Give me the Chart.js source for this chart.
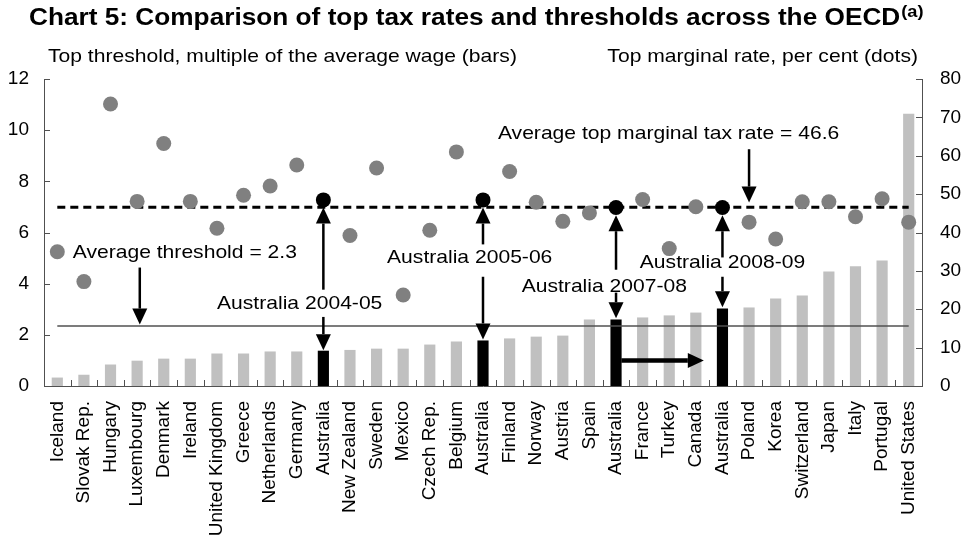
<!DOCTYPE html>
<html>
<head>
<meta charset="utf-8">
<script src="https://cdn.jsdelivr.net/npm/chart.js@4.4.1/dist/chart.umd.min.js"></script>
<style>
  html, body { margin: 0; padding: 0; background: #fff; }
</style>
</head>
<body>
<canvas id="chart" width="966" height="554"></canvas>
<script>
// ---- data ----
const countries = ['Iceland', 'Slovak Rep.', 'Hungary', 'Luxembourg', 'Denmark', 'Ireland',
  'United Kingdom', 'Greece', 'Netherlands', 'Germany', 'Australia', 'New Zealand', 'Sweden',
  'Mexico', 'Czech Rep.', 'Belgium', 'Australia', 'Finland', 'Norway', 'Austria', 'Spain',
  'Australia', 'France', 'Turkey', 'Canada', 'Australia', 'Poland', 'Korea', 'Switzerland',
  'Japan', 'Italy', 'Portugal', 'United States'];

// top threshold, multiple of the average wage (bars, left axis)
const thresholds = [0.33, 0.44, 0.84, 0.99, 1.07, 1.07, 1.27, 1.27, 1.35, 1.35, 1.38, 1.41, 1.46,
  1.46, 1.62, 1.74, 1.78, 1.86, 1.93, 1.97, 2.60, 2.60, 2.68, 2.76, 2.87, 3.03, 3.07, 3.42, 3.54,
  4.48, 4.68, 4.91, 10.64];

// top marginal rate, per cent (dots, right axis)
const topRates = [35.0, 27.2, 73.5, 48.1, 63.2, 48.1, 41.1, 49.7, 52.1, 57.6, 48.5, 39.2, 56.8,
  23.7, 40.6, 61.0, 48.5, 55.9, 47.9, 42.9, 45.1, 46.5, 48.6, 35.8, 46.7, 46.5, 42.7, 38.3, 48.0,
  48.0, 44.1, 48.8, 42.7];

const leftTicks = [0, 2, 4, 6, 8, 10, 12];
const rightTicks = [0, 10, 20, 30, 40, 50, 60, 70, 80];

const avgThreshold = 2.35;   // drawn line, labelled 2.3
const avgTopRate = 46.6;

// annotations, placed in data space (x = category index, y = axis value)
const notes = [
  { text: 'Average threshold = 2.3', x: 0.58, y: 5.22, axis: 'yL', align: 'left' },
  { text: 'Australia 2004-05', x: 9.11, y: 3.22, axis: 'yL', align: 'center' },
  { text: 'Australia 2005-06', x: 15.5, y: 5.02, axis: 'yL', align: 'center' },
  { text: 'Australia 2007-08', x: 20.56, y: 3.88, axis: 'yL', align: 'center' },
  { text: 'Australia 2008-09', x: 25.0, y: 4.82, axis: 'yL', align: 'center' },
  { text: 'Average top marginal tax rate = 46.6', x: 16.56, y: 65.6, axis: 'yR', align: 'left' }
];
const arrows = [
  { x1: 3.1, y1: 4.63, x2: 3.1, y2: 2.4, axis: 'yL' },
  { x1: 10, y1: 25.1, x2: 10, y2: 46.5, axis: 'yR' },
  { x1: 10, y1: 2.7, x2: 10, y2: 1.40, axis: 'yL' },
  { x1: 16, y1: 36.9, x2: 16, y2: 46.5, axis: 'yR' },
  { x1: 16, y1: 4.27, x2: 16, y2: 1.82, axis: 'yL' },
  { x1: 21, y1: 30.3, x2: 21, y2: 44.5, axis: 'yR' },
  { x1: 21, y1: 3.65, x2: 21, y2: 2.65, axis: 'yL' },
  { x1: 25, y1: 33.5, x2: 25, y2: 44.5, axis: 'yR' },
  { x1: 25, y1: 4.27, x2: 25, y2: 3.08, axis: 'yL' },
  { x1: 26, y1: 61.7, x2: 26, y2: 47.8, axis: 'yR' },
  { x1: 21.2, y1: 1.0, x2: 24.3, y2: 1.0, axis: 'yL', lw: 4.5 }
];

const FONT = '"Liberation Sans", Arial, sans-serif';
const SX = 1.14;   // the source text is a bit wider than plain Arial

const isAus = countries.map(c => c === 'Australia');
const barColors = isAus.map(a => a ? '#000000' : '#c0c0c0');
const dotColors = isAus.map(a => a ? '#000000' : '#808080');

function wideText(ctx, txt, x, y, font, align, baseline) {
  ctx.save();
  ctx.font = font;
  ctx.textBaseline = baseline || 'middle';
  ctx.textAlign = 'left';
  const w = ctx.measureText(txt).width * SX;
  const x0 = align === 'center' ? x - w / 2 : align === 'right' ? x - w : x;
  ctx.translate(x0, y);
  ctx.scale(SX, 1);
  ctx.fillStyle = '#000';
  ctx.fillText(txt, 0, 0);
  ctx.restore();
  return w;
}

function drawArrow(ctx, x1, y1, x2, y2, lw) {
  const headL = 16, headW = 15;
  const ang = Math.atan2(y2 - y1, x2 - x1);
  const bx = x2 - headL * Math.cos(ang), by = y2 - headL * Math.sin(ang);
  ctx.save();
  ctx.strokeStyle = '#000';
  ctx.fillStyle = '#000';
  ctx.lineWidth = lw;
  ctx.beginPath();
  ctx.moveTo(x1, y1);
  ctx.lineTo(bx, by);
  ctx.stroke();
  const px = -Math.sin(ang) * headW / 2, py = Math.cos(ang) * headW / 2;
  ctx.beginPath();
  ctx.moveTo(x2, y2);
  ctx.lineTo(bx + px, by + py);
  ctx.lineTo(bx - px, by - py);
  ctx.closePath();
  ctx.fill();
  ctx.restore();
}

const decor = {
  id: 'decor',
  afterDatasetDraw(chart, args) {
    // reference lines go between the bars and the dots
    if (args.meta.type !== 'bar') return;
    const { ctx } = chart;
    const x = chart.scales.x, yL = chart.scales.yL, yR = chart.scales.yR;
    const xa = x.getPixelForValue(0), xb = x.getPixelForValue(countries.length - 1);
    ctx.save();
    ctx.strokeStyle = '#505050';
    ctx.lineWidth = 1.5;
    ctx.beginPath();
    const ty = yL.getPixelForValue(avgThreshold);
    ctx.moveTo(xa, ty); ctx.lineTo(xb, ty);
    ctx.stroke();
    ctx.strokeStyle = '#000';
    ctx.lineWidth = 3;
    ctx.setLineDash([8, 5]);
    ctx.beginPath();
    const ry = yR.getPixelForValue(avgTopRate);
    ctx.moveTo(xa, ry); ctx.lineTo(xb, ry);
    ctx.stroke();
    ctx.restore();
  },
  afterDatasetsDraw(chart) {
    const { ctx, chartArea: a } = chart;
    const x = chart.scales.x;
    // inward tick marks
    ctx.save();
    ctx.strokeStyle = '#505050';
    ctx.lineWidth = 1;
    ctx.beginPath();
    for (let i = 1; i < countries.length; i++) {
      const px = Math.round(x.getPixelForValue(i - 0.5)) + 0.5;
      ctx.moveTo(px, a.bottom); ctx.lineTo(px, a.bottom - 6);
    }
    leftTicks.forEach(v => {
      const py = Math.round(chart.scales.yL.getPixelForValue(v)) + 0.5;
      ctx.moveTo(a.left, py); ctx.lineTo(a.left + 6, py);
    });
    rightTicks.forEach(v => {
      const py = Math.round(chart.scales.yR.getPixelForValue(v)) + 0.5;
      ctx.moveTo(a.right, py); ctx.lineTo(a.right - 6, py);
    });
    ctx.stroke();
    ctx.restore();

    arrows.forEach(r => {
      const s = chart.scales[r.axis];
      drawArrow(ctx, x.getPixelForValue(r.x1), s.getPixelForValue(r.y1),
        x.getPixelForValue(r.x2), s.getPixelForValue(r.y2), r.lw || 2.5);
    });

    const noteFont = '18.5px ' + FONT;
    notes.forEach(n => {
      const s = chart.scales[n.axis];
      wideText(ctx, n.text, x.getPixelForValue(n.x), s.getPixelForValue(n.y), noteFont, n.align);
    });

    // title and axis titles
    const w = wideText(ctx, 'Chart 5: Comparison of top tax rates and thresholds across the OECD',
      29, 25, 'bold 23px ' + FONT, 'left', 'alphabetic');
    wideText(ctx, '(a)', 29 + w + 1, 17, 'bold 16px ' + FONT, 'left', 'alphabetic');
    wideText(ctx, 'Top threshold, multiple of the average wage (bars)', 48, 62, noteFont, 'left', 'alphabetic');
    wideText(ctx, 'Top marginal rate, per cent (dots)', 918, 62, noteFont, 'right', 'alphabetic');
  }
};

Chart.defaults.font.family = FONT;
Chart.defaults.color = '#000';

const axisBorder = { display: true, color: '#505050', width: 1 };

new Chart(document.getElementById('chart').getContext('2d'), {
  data: {
    labels: countries,
    datasets: [
      {
        type: 'line',
        label: 'Top marginal rate, per cent',
        data: topRates,
        yAxisID: 'yR',
        showLine: false,
        pointRadius: 7.5,
        pointHoverRadius: 7.5,
        pointBorderWidth: 0,
        pointBackgroundColor: dotColors,
        order: 0
      },
      {
        type: 'bar',
        label: 'Top threshold, multiple of average wage',
        data: thresholds,
        yAxisID: 'yL',
        backgroundColor: barColors,
        barPercentage: 0.42,
        categoryPercentage: 1,
        order: 1
      }
    ]
  },
  options: {
    responsive: false,
    animation: false,
    events: [],
    layout: { padding: { top: 79, left: 0, right: 0, bottom: 0 } },
    plugins: { legend: { display: false }, tooltip: { enabled: false } },
    scales: {
      x: {
        type: 'category',
        offset: true,
        grid: { display: false, drawTicks: false },
        border: axisBorder,
        ticks: {
          autoSkip: false, minRotation: 90, maxRotation: 90,
          font: { size: 19 }, padding: 15, color: '#000'
        },
        afterFit: s => { s.height = 168; }
      },
      yL: {
        position: 'left',
        min: leftTicks[0], max: leftTicks[leftTicks.length - 1],
        grid: { display: false, drawTicks: false },
        border: axisBorder,
        ticks: { stepSize: 2, font: { size: 19 }, padding: 15, color: '#000' },
        afterFit: s => { s.width = 44; }
      },
      yR: {
        position: 'right',
        min: rightTicks[0], max: rightTicks[rightTicks.length - 1],
        grid: { display: false, drawTicks: false },
        border: axisBorder,
        ticks: { stepSize: 10, font: { size: 19 }, padding: 18, color: '#000' },
        afterFit: s => { s.width = 44; }
      }
    }
  },
  plugins: [decor]
});
</script>
</body>
</html>
